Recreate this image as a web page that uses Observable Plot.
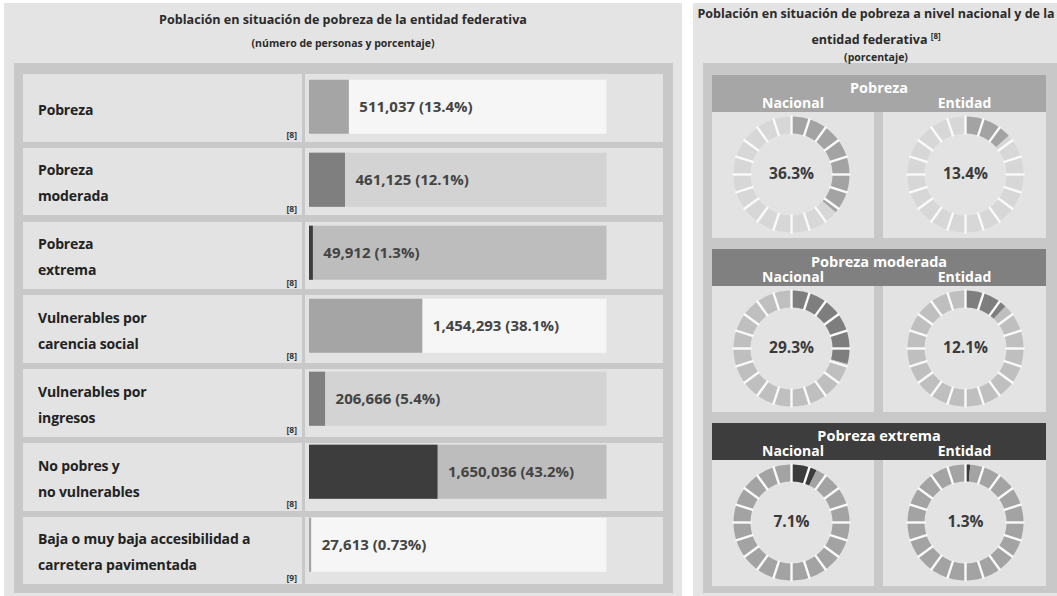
<!DOCTYPE html>
<html><head><meta charset="utf-8">
<script src="https://cdn.jsdelivr.net/npm/d3@7"></script>
<script src="https://cdn.jsdelivr.net/npm/@observablehq/plot@0.6"></script>
<style>
body{margin:0;background:#fff;font-family:"Open Sans",sans-serif;}
#root{position:relative;width:1057px;height:596px;overflow:hidden;background:#fff;}
#root div{box-sizing:border-box;}
</style></head><body><div id="root"></div>
<script>
// ---------------- DATA ----------------
const categories = ["Pobreza","Pobreza moderada","Pobreza extrema","Vulnerables por carencia social","Vulnerables por ingresos","No pobres y no vulnerables","Baja o muy baja accesibilidad a carretera pavimentada"];
const labelLines = [["Pobreza"],["Pobreza","moderada"],["Pobreza","extrema"],["Vulnerables por","carencia social"],["Vulnerables por","ingresos"],["No pobres y","no vulnerables"],["Baja o muy baja accesibilidad a","carretera pavimentada"]];
const persons = [511037,461125,49912,1454293,206666,1650036,27613];
const percents = [13.4,12.1,1.3,38.1,5.4,43.2,0.73];
const refs = ["[8]","[8]","[8]","[8]","[8]","[8]","[9]"];

const donutSections = ["Pobreza","Pobreza moderada","Pobreza extrema"];
const donutColumns = ["Nacional","Entidad"];
const nacionalPct = [36.3,29.3,7.1];
const entidadPct = [13.4,12.1,1.3];

const leftTitle = "Población en situación de pobreza de la entidad federativa";
const leftSubtitle = "(número de personas y porcentaje)";
const rightTitle1 = "Población en situación de pobreza a nivel nacional y de la";
const rightTitle2 = "entidad federativa";
const rightTitleRef = "[8]";
const rightSubtitle = "(porcentaje)";

// ---------------- STYLES ----------------
const rowFill = ["#a5a5a5","#7f7f7f","#3d3d3d"];
const rowTrack = ["#f6f6f6","#d3d3d3","#bdbdbd"];
const secHeader = ["#a6a6a6","#808080","#3d3d3d"];
const secFill = ["#a3a3a3","#7e7e7e","#3b3b3b"];
const secEmpty = ["#d7d7d7","#bfbfbf","#a3a3a3"];
const PANEL="#e4e4e4", DARK="#c8c8c8", CELL="#e3e3e3";
const ROW_TOP=74, ROW_STEP=73.83, ROW_H=67.5;
const SEC_TOPS=[75,249,423], HDR_H=37, DCELL_H=126;

const root=document.getElementById("root");
function box(l,t,w,h,bg){const d=document.createElement("div");d.style.cssText=`position:absolute;left:${l}px;top:${t}px;width:${w}px;height:${h}px;background:${bg};`;root.appendChild(d);return d;}
function txt(l,t,w,h,text,css){const d=document.createElement("div");d.style.cssText=`position:absolute;left:${l}px;top:${t}px;width:${w}px;height:${h}px;`+css;d.textContent=text;root.appendChild(d);return d;}
function place(el,l,t){el.style.position="absolute";el.style.left=l+"px";el.style.top=t+"px";root.appendChild(el);}

// ---------------- LEFT PANEL ----------------
box(4,3,678,600,PANEL);
box(14,63,659,530,DARK);
txt(4,11,678,18,leftTitle,"text-align:center;font-weight:700;font-size:12.6px;line-height:18px;color:#2b2b2b;");
txt(4,35,678,16,leftSubtitle,"text-align:center;font-weight:700;font-size:10.5px;line-height:16px;color:#2b2b2b;");
categories.forEach((c,i)=>{
  const top=ROW_TOP+i*ROW_STEP;
  box(23,top,279,ROW_H,CELL);
  box(305,top,358,ROW_H,CELL);
  const d=document.createElement("div");
  d.style.cssText=`position:absolute;left:38px;top:${top}px;width:260px;height:71px;display:flex;flex-direction:column;justify-content:center;font-weight:700;font-size:14px;line-height:26px;color:#222;letter-spacing:-0.15px;`;
  labelLines[i].forEach(s=>{const sp=document.createElement("div");sp.textContent=s;d.appendChild(sp);});
  root.appendChild(d);
  txt(260,top+55,37,12,refs[i],"text-align:right;font-weight:700;font-size:8.5px;line-height:12px;color:#333;");
});

const rows=categories.map((c,i)=>({cat:c,pct:percents[i],label:`${d3.format(",")(persons[i])} (${percents[i]}%)`,track:rowTrack[i%3],fill:rowFill[i%3]}));
const barPlot=Plot.plot({
  width:358,height:517,marginTop:0,marginBottom:0,marginLeft:4,marginRight:56.5,
  x:{domain:[0,100],axis:null},
  y:{domain:categories,axis:null,padding:0},
  color:{type:"identity"},
  style:{background:"transparent",fontFamily:"Open Sans",overflow:"visible"},
  marks:[
    Plot.barX(rows,{x1:0,x2:100,y:"cat",fill:"track",insetTop:2.7,insetBottom:16.2}),
    Plot.barX(rows,{x1:0,x2:"pct",y:"cat",fill:"fill",insetTop:2.7,insetBottom:16.2}),
    Plot.text(rows,{x:"pct",y:"cat",text:"label",dx:10,dy:-6.7,textAnchor:"start",fill:"#444",fontSize:15,fontWeight:"bold"})
  ]
});
place(barPlot,305,ROW_TOP);

// ---------------- RIGHT PANEL ----------------
box(693,3,366,600,PANEL);
box(703,63,354,530,DARK);
txt(693,5,366,18,rightTitle1,"text-align:center;font-weight:700;font-size:12.5px;line-height:18px;color:#2b2b2b;white-space:nowrap;");
const t2=txt(693,31,366,18,"","text-align:center;font-weight:700;font-size:12.5px;line-height:18px;color:#2b2b2b;");
t2.textContent=rightTitle2+" ";
const sup=document.createElement("span");sup.textContent=rightTitleRef;sup.style.cssText="font-size:8px;position:relative;top:-5px;line-height:0;";t2.appendChild(sup);
txt(693,50,366,15,rightSubtitle,"text-align:center;font-weight:700;font-size:10.5px;line-height:15px;color:#2b2b2b;");

function donut(pct,fillC,emptyC){
  const N=20,R=58,r=41,steps=8,seg=360/N,va=pct/100*360;
  const pts=[];let id=0;
  const rad=a=>a*Math.PI/180;
  function part(a0,a1,color){
    id++;
    for(let j=0;j<=steps;j++){const a=rad(a0+(a1-a0)*j/steps);pts.push({id,color,x:R*Math.sin(a),y:R*Math.cos(a)});}
    for(let j=steps;j>=0;j--){const a=rad(a0+(a1-a0)*j/steps);pts.push({id,color,x:r*Math.sin(a),y:r*Math.cos(a)});}
  }
  const gaps=[];
  for(let k=0;k<N;k++){
    const a0=k*seg,a1=(k+1)*seg;
    if(va>a0)part(a0,Math.min(a1,va),fillC);
    if(va<a1)part(Math.max(a0,va),a1,emptyC);
    const a=rad(a0);
    gaps.push({x1:(r-1)*Math.sin(a),y1:(r-1)*Math.cos(a),x2:(R+1)*Math.sin(a),y2:(R+1)*Math.cos(a)});
  }
  return Plot.plot({
    width:162,height:DCELL_H,margin:0,
    x:{domain:[-81,81],axis:null},
    y:{domain:[-DCELL_H/2,DCELL_H/2],axis:null},
    color:{type:"identity"},
    style:{background:"transparent",fontFamily:"Open Sans",overflow:"visible"},
    marks:[
      Plot.line(pts,{x:"x",y:"y",z:"id",fill:"color",stroke:"none"}),
      Plot.link(gaps,{x1:"x1",y1:"y1",x2:"x2",y2:"y2",stroke:"#fafafa",strokeWidth:2.4}),
      Plot.text([`${pct}%`],{frameAnchor:"middle",text:d=>d,fontSize:15.5,fontWeight:"bold",fill:"#3a3a3a",dy:0})
    ]
  });
}

donutSections.forEach((s,i)=>{
  const top=SEC_TOPS[i];
  box(712,top,334,HDR_H,secHeader[i]);
  txt(712,top+3,334,20,s,"text-align:center;font-weight:700;font-size:14.5px;line-height:20px;color:#fff;");
  const cols=[712,883], widths=[162,163];
  donutColumns.forEach((c,j)=>{
    txt(cols[j],top+18,widths[j],20,c,"text-align:center;font-weight:700;font-size:14px;line-height:20px;color:#fff;");
    box(cols[j],top+HDR_H,widths[j],DCELL_H,CELL);
    const v=j===0?nacionalPct[i]:entidadPct[i];
    place(donut(v,secFill[i],secEmpty[i]),cols[j]+(j===0?-2:1),top+HDR_H-1);
  });
});
</script></body></html>
